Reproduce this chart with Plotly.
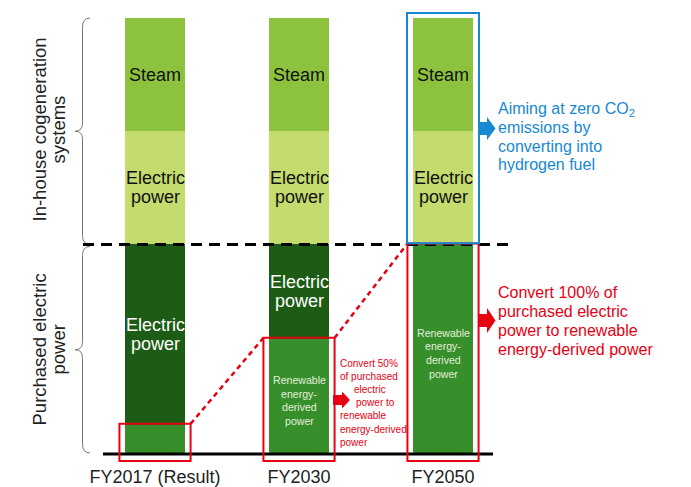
import plotly.graph_objects as go

# ---------------- data ----------------
categories = ["FY2017 (Result)", "FY2030", "FY2050"]
renewable = [14, 55, 100]          # purchased power, renewable-derived
purchased_other = [86, 45, 0]      # purchased power, conventional
cogen_electric = [54, 54, 54]      # in-house cogeneration, electric power
steam = [54, 54, 54]               # in-house cogeneration, steam

steam_label = ["Steam"]
cogen_label = ["Electric", "power"]
purchased_label = ["Electric", "power"]
renewable_label = ["Renewable", "energy-", "derived", "power"]

side_top_label = ["In-house cogeneration", "systems"]
side_bottom_label = ["Purchased electric", "power"]
blue_note = ["Aiming at zero CO<sub>2</sub>", "emissions by", "converting into", "hydrogen fuel"]
red_note_big = ["Convert 100% of", "purchased electric", "power to renewable", "energy-derived power"]
red_note_small = ["Convert 50%", "of purchased", "electric", "power to", "renewable", "energy-derived", "power"]

# ---------------- styles ----------------
W, H = 691, 487
C_REN = "#368F2B"
C_PUR = "#1D5C15"
C_COG = "#C4DB6D"
C_STM = "#8DC23F"
RED = "#E60012"
BLUE = "#1788D2"
SANS = "Liberation Sans, Arial, Helvetica, sans-serif"

# geometry (pixel layout)
STEP = 144.0            # px between bar centres
FIRST = 155.0           # px of first bar centre
BASE_PX = 454.0         # px of y = 0
TOP_PX = 18.0           # px of stacked total
totals = [r + p + c + s for r, p, c, s in zip(renewable, purchased_other, cogen_electric, steam)]
purchased_tot = [r + p for r, p in zip(renewable, purchased_other)]
K = (BASE_PX - TOP_PX) / max(totals)   # px per unit
PLOT_T, PLOT_B = 5.0, 470.0
ymax = max(totals) + (TOP_PX - PLOT_T) / K
ymin = -(PLOT_B - BASE_PX) / K
xr = [-FIRST / STEP, (W - FIRST) / STEP]


def xd(px):
    return xr[0] + px / STEP


def yd(py):
    return (BASE_PX - py) / K


BAR_W = 60 / STEP

fig = go.Figure()
for vals, col in [(renewable, C_REN), (purchased_other, C_PUR),
                  (cogen_electric, C_COG), (steam, C_STM)]:
    fig.add_trace(go.Bar(x=categories, y=vals, width=BAR_W, marker=dict(color=col, line=dict(width=0)),
                         hoverinfo="skip", showlegend=False))

ann = []


def add_lines(lines, x, y, size, color, spacing, family=SANS, xanchor="center",
              angle=0, xoffs=None, xref="x", yref="y", yoff=0):
    n = len(lines)
    for i, line in enumerate(lines):
        s = ((n - 1) / 2 - i) * spacing
        a = dict(x=x, y=y, xref=xref, yref=yref, text=line, showarrow=False,
                 font=dict(size=size, color=color, family=family),
                 xanchor=xanchor, yanchor="middle", textangle=angle)
        if angle == -90:
            a["xshift"] = -s
        else:
            a["yshift"] = s + yoff
            if xoffs:
                a["xshift"] = xoffs[i]
        ann.append(a)


# bar segment labels
for i in range(len(categories)):
    b0 = 0
    segs = [(renewable[i], renewable_label, "#E4EEDC", 10.6, 13.6, -4),
            (purchased_other[i], purchased_label, "#FFFFFF", 18, 18.5, 0),
            (cogen_electric[i], cogen_label, "#111111", 18, 19, 0),
            (steam[i], steam_label, "#111111", 18, 19, 0)]
    for v, lab, col, sz, sp, yo in segs:
        if v >= 30:
            add_lines(lab, i, b0 + v / 2, sz, col, sp, yoff=yo)
        b0 += v

# side labels
add_lines(side_top_label, xd(48), yd(130), 18.5, "#222222", 19, angle=-90)
add_lines(side_bottom_label, xd(48), yd(350), 18.5, "#222222", 19, angle=-90)

# notes
add_lines(blue_note, xd(496), yd(137), 16, BLUE, 18.3, xanchor="left")
add_lines(red_note_big, xd(496), yd(320.5), 16, RED, 19, xanchor="left")
add_lines(red_note_small, xd(338), yd(402.6), 10, RED, 13.2, xanchor="left",
          xoffs=[0, 0, 14, 16, 0, 0, 0])

shapes = []


def brace(y_top, y_bot):
    t, b = BASE_PX - y_top * K, BASE_PX - y_bot * K
    m = (t + b) / 2
    pts = [("M", 90, t), ("Q", 82.5, t), ("", 82.5, t + 9), ("L", 82.5, m - 8),
           ("Q", 82.5, m), ("", 75, m), ("Q", 82.5, m), ("", 82.5, m + 8),
           ("L", 82.5, b - 9), ("Q", 82.5, b), ("", 90, b)]
    path = " ".join(f"{c} {xd(px):.5f},{yd(py):.5f}" if c else f"{xd(px):.5f},{yd(py):.5f}"
                    for c, px, py in pts)
    shapes.append(dict(type="path", path=path, xref="x", yref="y",
                       line=dict(color="#777777", width=1)))


brace(totals[0], purchased_tot[0])
brace(purchased_tot[0] - 1, 0.5)


def arrow(xl, yc, shaft, sh, head, hh, color):
    pts = [(xl, yc - sh), (xl + shaft, yc - sh), (xl + shaft, yc - hh), (xl + shaft + head, yc),
           (xl + shaft, yc + hh), (xl + shaft, yc + sh), (xl, yc + sh)]
    path = "M " + " L ".join(f"{xd(px):.5f},{yd(py):.5f}" for px, py in pts) + " Z"
    shapes.append(dict(type="path", path=path, xref="x", yref="y",
                       fillcolor=color, line=dict(width=0)))


arrow(478, 128.5, 9, 6.5, 8.5, 11.5, BLUE)
arrow(478, 320.5, 9, 6.5, 8.5, 12.5, RED)
arrow(333, 400, 9, 5, 8, 8.5, RED)

# black base line and dashed boundary
shapes.append(dict(type="line", xref="x", yref="y", x0=xd(103), x1=xd(493), y0=0, y1=0,
                   line=dict(color="#000000", width=3)))
shapes.append(dict(type="line", xref="x", yref="y", x0=xd(83), x1=xd(512),
                   y0=purchased_tot[0], y1=purchased_tot[0],
                   line=dict(color="#000000", width=3, dash="11px,7px")))

# red boxes around renewable parts and connectors
BOX = 0.247
for i in range(len(categories)):
    shapes.append(dict(type="rect", xref="x", yref="y", x0=i - BOX, x1=i + BOX,
                       y0=-7 / K, y1=renewable[i] + 0.4,
                       line=dict(color=RED, width=2)))
for i in range(len(categories) - 1):
    shapes.append(dict(type="line", xref="x", yref="y", x0=i + BOX, y0=renewable[i] + 0.4,
                       x1=i + 1 - BOX, y1=renewable[i + 1] + 0.4,
                       line=dict(color=RED, width=2.5, dash="5px,4px")))

# blue box around FY2050 cogeneration
j = len(categories) - 1
shapes.append(dict(type="rect", xref="x", yref="y", x0=j - 0.25, x1=j + 0.25,
                   y0=purchased_tot[j] + 0.5, y1=totals[j] + 5 / K,
                   line=dict(color=BLUE, width=2)))

fig.update_layout(
    width=W, height=H, barmode="stack", bargap=0,
    margin=dict(l=0, r=0, t=PLOT_T, b=H - PLOT_B, pad=0),
    paper_bgcolor="white", plot_bgcolor="white",
    shapes=shapes, annotations=ann,
    xaxis=dict(type="category", range=xr, showgrid=False, zeroline=False, showline=False,
               ticks="outside", ticklen=6, tickcolor="rgba(0,0,0,0)",
               tickfont=dict(size=18, color="#222222", family=SANS),
               anchor="free", position=(0 - ymin) / (ymax - ymin), fixedrange=True),
    yaxis=dict(range=[ymin, ymax], visible=False, showgrid=False, zeroline=False, fixedrange=True),
)

fig.write_html("out.html", config={"displayModeBar": False})
